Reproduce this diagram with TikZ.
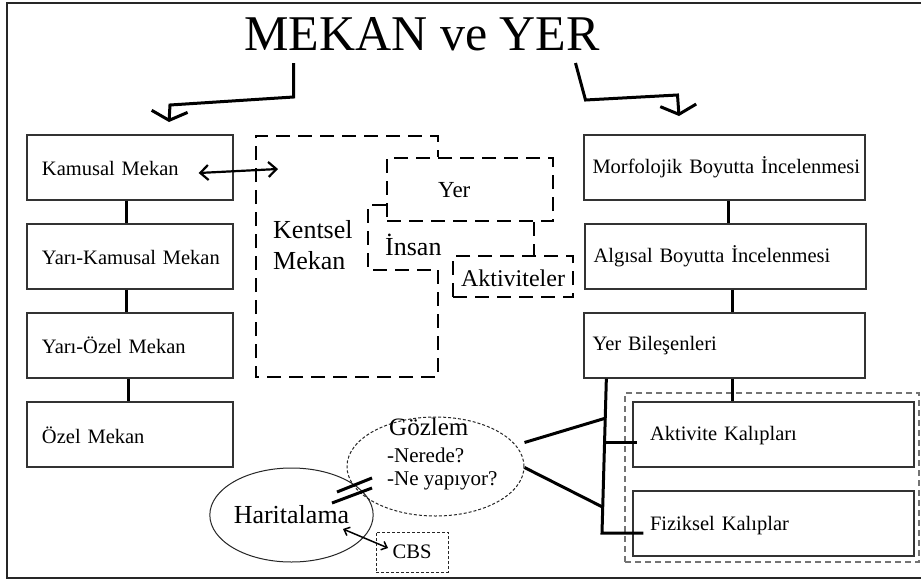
\documentclass[tikz,border=0pt]{standalone}
\usepackage{fontspec}
\setmainfont{Liberation Serif}
\usetikzlibrary{arrows.meta,shapes.geometric,calc}
\begin{document}
\begin{tikzpicture}[x=1pt,y=-1pt,
  fs/.style={font=\fontsize{#1}{#1}\selectfont},
  txt/.style={inner sep=0, anchor=base west},
  box/.style={draw=black!80, line width=1.3, rectangle, minimum height=65, inner sep=0, align=left, fs=20.5},
  lbox/.style={box, minimum width=206, text width=206, execute at begin node={\hspace*{15pt}}, text height=15, text depth=0},
  rbox/.style={box, minimum width=281, text width=281, execute at begin node={\hspace*{8.5pt}}, text height=11, text depth=0},
  kbox/.style={box, minimum width=281, text width=281, execute at begin node={\hspace*{17pt}}, text height=11, text depth=0},
  link/.style={line width=3, black},
  bigdash/.style={line width=2.5, dash pattern=on 14pt off 8pt},
  thindash/.style={line width=1, dash pattern=on 3pt off 2pt},
  bigarrow/.style={line width=3, line join=miter, -{Straight Barb[length=9pt,width=36pt]}},
  dbl/.style={line width=#1, {Straight Barb[length=8pt,width=15pt]}-{Straight Barb[length=8pt,width=15pt]}}
]
\useasboundingbox (0,0) rectangle (921,579);
\fill[white] (0,0) rectangle (921,579);
\draw[line width=2, black!85] (7,3) rectangle (930,578);

% title
\node[anchor=base, inner sep=0, fs=50] (title) at (422,50) {MEKAN ve YER};
\coordinate (tL) at (293.5,63);
\coordinate (tR) at (575.5,63);
\coordinate (tLend) at (169,122);
\coordinate (tRend) at (679,116);

% left column
\node[lbox] (km) at (130,167.5) {Kamusal Mekan};
\node[lbox] (ykm) at (130,256.5) {Yarı-Kamusal Mekan};
\node[lbox] (yom) at (130,345.5) {Yarı-Özel Mekan};
\node[lbox, text height=17] (om) at (130,434.5) {Özel Mekan};
\draw[link] ([xshift=-4]km.south) -- ([xshift=-4]ykm.north);
\draw[link] ([xshift=-4]ykm.south) -- ([xshift=-4]yom.north);
\draw[link] ([xshift=-2]yom.south) -- ([xshift=-2]om.north);

% right column
\node[rbox] (mb) at (724.5,167.5) {Morfolojik Boyutta İncelenmesi};
\node[rbox] (ab) at (725.5,256.5) {Algısal Boyutta İncelenmesi};
\node[rbox, text height=9] (yb) at (724.5,345.5) {Yer Bileşenleri};
\draw[link] ([xshift=3.5]mb.south) -- ([xshift=3.5]mb.south |- ab.north);
\draw[link] ([xshift=6.5]ab.south) -- ([xshift=6.5]ab.south |- yb.north);

\node[draw=black!55, line width=1.2, dash pattern=on 6pt off 4pt, minimum width=294, minimum height=169, inner sep=0] (kal) at (772,477.5) {};
\node[kbox] (ak) at (773.5,434.5) {Aktivite Kalıpları};
\node[kbox, text height=13] (fk) at (773.5,523.5) {Fiziksel Kalıplar};
\draw[link] ([xshift=7.5]yb.south) -- ([xshift=7.5]yb.south |- ak.north);

% top arrows
\draw[bigarrow] (tL) -- (293.5,97) -- (170,105) -- (tLend);
\draw[bigarrow] (tR) -- (585.5,100) -- (677.5,95) -- (tRend);

% Kentsel Mekan group
\node[draw, bigdash, minimum width=166, minimum height=63, inner sep=0] (yer) at (470,189.5) {};
\node[txt, fs=23] (yert) at (438,197) {Yer};
\node[draw, bigdash, minimum width=120, minimum height=41, inner sep=0, fs=24, text height=19, text depth=0] (akt) at (513,276.5) {Aktiviteler};
\draw[bigdash] (438,270) -- (438,377) -- (256,377) -- (256,136) -- (438,136) -- (438,136 |- yer.north);
\draw[bigdash] (yer.west |- 0,205) -- (368,205) -- (368,270) -- (438,270);
\draw[bigdash] ([xshift=64]yer.south) -- ([xshift=64]yer.south |- akt.north);
\node[txt, fs=26] (kent1) at (273,238) {Kentsel};
\node[txt, fs=26] (kent2) at (273,269) {Mekan};
\node[txt, fs=26] (insan) at (385,255) {İnsan};

\coordinate (kentA) at (278,169);
\draw[dbl=2.2] ([shift={(-35,5.5)}]km.east) -- (kentA);

% Gözlem
\node[ellipse, draw=black!85, thindash, minimum width=177, minimum height=99, inner sep=0] (gz) at (435.5,466.5) {};
\node[txt, fs=25] (gz1) at (389,435) {Gözlem};
\node[txt, fs=21] (gz2) at (387,462) {-Nerede?};
\node[txt, fs=21] (gz3) at (387,485) {-Ne yapıyor?};

\coordinate (busTop) at ([xshift=23]yb.south west);
\coordinate (busBot) at (602,533);
\coordinate (busA) at (605,442);
\coordinate (busG1) at (606,418);
\coordinate (busG2) at (602.5,507);
\draw[link] (busTop) -- (busBot) -- ($(fk.west |- busBot)+(11,0)$);
\draw[link] (busA) -- ($(ak.west |- busA)+(5,0)$);
\draw[link] ([yshift=24]gz.east) -- (busG1);
\draw[link] ([yshift=-1]gz.east) -- (busG2);

% Haritalama
\node[ellipse, draw=black!85, line width=1, minimum width=137, minimum height=94, inner sep=0, fs=26, text height=17, text depth=0] (hr) at (291.5,515) {Haritalama};
\draw[line width=3] (337,492) -- (372,478);
\draw[line width=3] (332,503) -- (372,488);

\node[draw=black!85, thindash, minimum width=72, minimum height=40, inner sep=0, fs=20.6, text height=12, text depth=0] (cbs) at (412,552) {CBS};
\draw[line width=1.5, {Straight Barb[length=5pt,width=9pt]}-{Straight Barb[length=5pt,width=9pt]}] ([shift={(51.5,14)}]hr.center) -- ([shift={(-24,-4)}]cbs.center);
\end{tikzpicture}
\end{document}
